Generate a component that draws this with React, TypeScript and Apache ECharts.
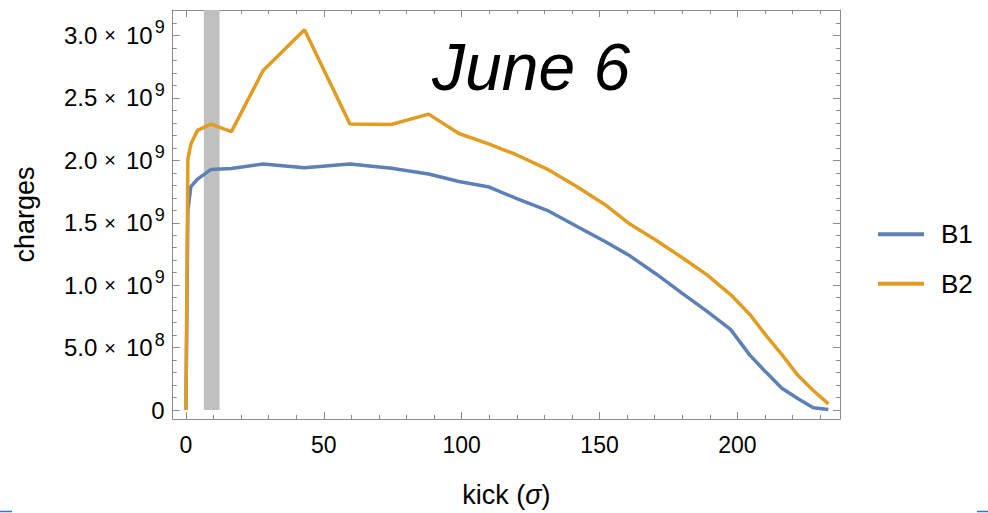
import React, { useEffect, useRef } from "react";
import * as echarts from "echarts";

// ---- data ----
const kick = [0, 0.7, 1.8, 4.2, 9, 16.5, 28, 43, 59.5, 74.5, 88, 99, 110, 120, 131, 142, 152, 161, 170.5, 180, 189, 197.5, 204.5, 210.5, 216, 222, 227.5, 233];
const chargesB1 = [0, 1.6e9, 1.79e9, 1.85e9, 1.926e9, 1.935e9, 1.97e9, 1.94e9, 1.97e9, 1.937e9, 1.89e9, 1.83e9, 1.786e9, 1.693e9, 1.6e9, 1.468e9, 1.35e9, 1.235e9, 1.09e9, 0.935e9, 0.79e9, 0.646e9, 0.44e9, 0.3e9, 0.177e9, 0.09e9, 0.018e9, 0.005e9];
const chargesB2 = [0, 2.01e9, 2.13e9, 2.24e9, 2.29e9, 2.23e9, 2.72e9, 3.045e9, 2.29e9, 2.287e9, 2.37e9, 2.215e9, 2.13e9, 2.043e9, 1.93e9, 1.786e9, 1.645e9, 1.49e9, 1.36e9, 1.22e9, 1.083e9, 0.925e9, 0.766e9, 0.594e9, 0.448e9, 0.276e9, 0.157e9, 0.05e9];
const seriesNames = ["B1", "B2"];
const bandRange = [6.5, 12.2];
const xMajorTicks = [0, 50, 100, 150, 200];
const xMinorTicks = [10, 20, 30, 40, 60, 70, 80, 90, 110, 120, 130, 140, 160, 170, 180, 190, 210, 220, 230];
const yMajorTicks = [0, 0.5e9, 1.0e9, 1.5e9, 2.0e9, 2.5e9, 3.0e9];
const yMinorTicks = [0.1e9, 0.2e9, 0.3e9, 0.4e9, 0.6e9, 0.7e9, 0.8e9, 0.9e9, 1.1e9, 1.2e9, 1.3e9, 1.4e9, 1.6e9, 1.7e9, 1.8e9, 1.9e9, 2.1e9, 2.2e9, 2.3e9, 2.4e9, 2.6e9, 2.7e9, 2.8e9, 2.9e9, 3.1e9];
const titleText = "June 6";

const X_MIN = -4.8;
const X_MAX = 237.2;
const Y_MIN = -0.0716e9;
const Y_MAX = 3.204e9;

const FONT = "'Liberation Sans', Arial, Helvetica, sans-serif";
const FRAME = "#8c8c8c";
const BLUE = "#5E81B5";
const ORANGE = "#E19C24";

function yFmt(v: number): string {
  if (Math.abs(v) < 1) return "{m|0}";
  const exp = Math.floor(Math.log10(v) + 1e-9);
  const mant = v / Math.pow(10, exp);
  return `{m|${mant.toFixed(1)}}{x|×}{b|10}{s|${exp}}`;
}

export default function App() {
  const ref = useRef<HTMLDivElement>(null);
  useEffect(() => {
    if (!ref.current) return;
    const chart = echarts.init(ref.current, null, { renderer: "svg" });
    const tickLine = { color: FRAME, width: 1 };
    const frameLine = { show: true, onZero: false, lineStyle: tickLine };
    const noLine = { show: false, onZero: false };
    const baseX = { type: "value", min: X_MIN, max: X_MAX, splitLine: { show: false } };
    const baseY = { type: "value", min: Y_MIN, max: Y_MAX, splitLine: { show: false } };
    const option: any = {
      animation: false,
      backgroundColor: "#ffffff",
      title: {
        text: titleText,
        left: 432,
        top: 34,
        padding: 0,
        textStyle: { fontSize: 66, fontStyle: "italic", fontWeight: "normal", color: "#000", fontFamily: FONT, lineHeight: 66 },
      },
      legend: {
        data: seriesNames,
        orient: "vertical",
        left: 878,
        top: 219.3,
        padding: 0,
        icon: "rect",
        itemWidth: 46,
        itemHeight: 4,
        itemGap: 19.4,
        textStyle: { fontSize: 26, color: "#000", fontFamily: FONT, lineHeight: 30, padding: [0, 0, 0, 12] },
      },
      grid: { left: 172.7, right: 148, top: 10, bottom: 91 },
      xAxis: [
        {
          ...baseX,
          position: "bottom",
          name: "{n|kick (}{i|σ}{n|)}",
          nameLocation: "middle",
          nameGap: 62,
          nameTextStyle: {
            rich: {
              n: { fontSize: 27, fontFamily: FONT, color: "#000" },
              i: { fontSize: 27, fontFamily: FONT, color: "#000", fontStyle: "italic" },
            },
          },
          axisLine: frameLine,
          axisTick: { show: true, inside: true, length: 7, lineStyle: tickLine, customValues: xMajorTicks },
          axisLabel: { show: true, customValues: xMajorTicks, margin: 14, fontSize: 23, color: "#000", fontFamily: FONT },
        },
        {
          ...baseX,
          position: "bottom",
          axisLine: noLine,
          axisTick: { show: true, inside: true, length: 4, lineStyle: tickLine, customValues: xMinorTicks },
          axisLabel: { show: false },
        },
        {
          ...baseX,
          position: "top",
          axisLine: frameLine,
          axisTick: { show: true, inside: true, length: 7, lineStyle: tickLine, customValues: xMajorTicks },
          axisLabel: { show: false },
        },
        {
          ...baseX,
          position: "top",
          axisLine: noLine,
          axisTick: { show: true, inside: true, length: 4, lineStyle: tickLine, customValues: xMinorTicks },
          axisLabel: { show: false },
        },
      ],
      yAxis: [
        {
          ...baseY,
          position: "left",
          name: "charges",
          nameLocation: "middle",
          nameGap: 134,
          nameTextStyle: { fontSize: 27, color: "#000", fontFamily: FONT },
          axisLine: frameLine,
          axisTick: { show: true, inside: true, length: 7, lineStyle: tickLine, customValues: yMajorTicks },
          axisLabel: {
            show: true,
            customValues: yMajorTicks,
            margin: 8,
            formatter: yFmt,
            rich: {
              m: { fontSize: 24, fontFamily: FONT, color: "#000" },
              x: { fontSize: 20, fontFamily: FONT, color: "#000", padding: [0, 7, 0, 7] },
              b: { fontSize: 24, fontFamily: FONT, color: "#000", padding: [0, 2, 0, 3] },
              s: { fontSize: 18, fontFamily: FONT, color: "#000", padding: [0, 0, 16, 0] },
            },
          },
        },
        {
          ...baseY,
          position: "left",
          axisLine: noLine,
          axisTick: { show: true, inside: true, length: 4, lineStyle: tickLine, customValues: yMinorTicks },
          axisLabel: { show: false },
        },
        {
          ...baseY,
          position: "right",
          axisLine: frameLine,
          axisTick: { show: true, inside: true, length: 7, lineStyle: tickLine, customValues: yMajorTicks },
          axisLabel: { show: false },
        },
        {
          ...baseY,
          position: "right",
          axisLine: noLine,
          axisTick: { show: true, inside: true, length: 4, lineStyle: tickLine, customValues: yMinorTicks },
          axisLabel: { show: false },
        },
      ],
      series: [
        {
          name: seriesNames[0],
          type: "line",
          xAxisIndex: 0,
          yAxisIndex: 0,
          data: kick.map((k, i) => [k, chargesB1[i]]),
          showSymbol: false,
          color: BLUE,
          lineStyle: { color: BLUE, width: 3.5 },
          z: 3,
          markArea: {
            silent: true,
            itemStyle: { color: "#c0c0c0", opacity: 1 },
            data: [[{ coord: [bandRange[0], 0] }, { coord: [bandRange[1], Y_MAX] }]],
          },
        },
        {
          name: seriesNames[1],
          type: "line",
          xAxisIndex: 0,
          yAxisIndex: 0,
          data: kick.map((k, i) => [k, chargesB2[i]]),
          showSymbol: false,
          color: ORANGE,
          lineStyle: { color: ORANGE, width: 3.5 },
          z: 4,
        },
      ],
      graphic: [
        { type: "line", shape: { x1: 0, y1: 511.5, x2: 12, y2: 511.5 }, style: { stroke: "#3b6fd0", lineWidth: 1.5 } },
        { type: "line", shape: { x1: 977, y1: 511.5, x2: 988, y2: 511.5 }, style: { stroke: "#3b6fd0", lineWidth: 1.5 } },
      ],
    };
    chart.setOption(option);
    return () => chart.dispose();
  }, []);
  return (
    <div
      ref={ref}
      style={{ position: "fixed", left: 0, top: 0, width: 988, height: 513, background: "#fff" }}
    />
  );
}
